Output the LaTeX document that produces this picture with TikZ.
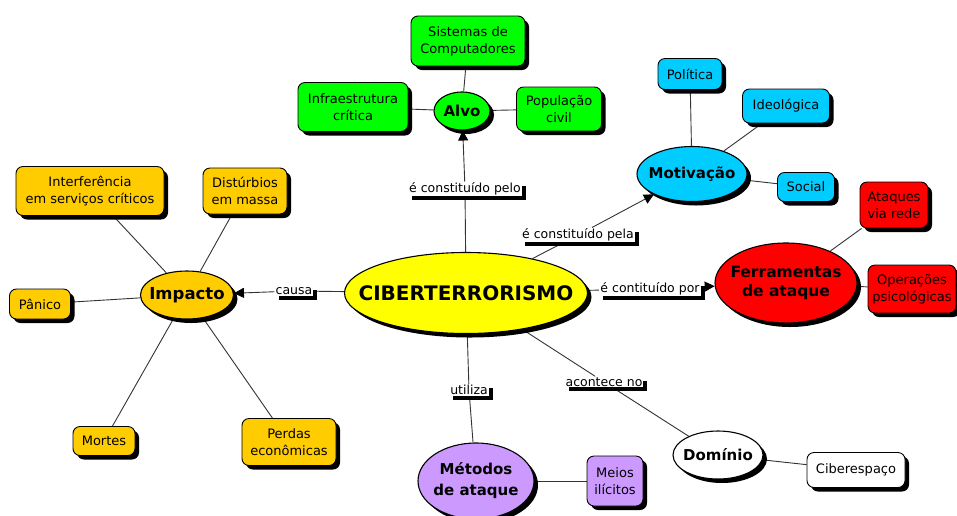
\documentclass[tikz,border=0pt]{standalone}
\usepackage{fontspec}
\setmainfont{DejaVu Sans}
\usetikzlibrary{shapes.geometric,shadows,arrows.meta,backgrounds}
\definecolor{cgreen}{RGB}{0,255,0}
\definecolor{cblue}{RGB}{0,204,255}
\definecolor{cred}{RGB}{255,0,0}
\definecolor{corange}{RGB}{255,204,0}
\definecolor{cyellow}{RGB}{255,255,0}
\definecolor{cpurple}{RGB}{204,153,255}
\begin{document}
\begin{tikzpicture}[x=1pt,y=-1pt,
  sh/.style={drop shadow={shadow xshift=4pt,shadow yshift=-4pt,fill=black,opacity=1}},
  box/.style={draw=black,line width=0.9pt,rounded corners=7pt,sh,align=center,inner sep=0pt,font=\fontsize{13}{17}\selectfont},
  oval/.style={ellipse,draw=black,line width=1.1pt,sh,inner sep=0pt},
  ovl/.style={align=center,inner sep=0pt,font=\bfseries\fontsize{15}{19}\selectfont},
  lab/.style={fill=white,sh,inner sep=1pt,font=\fontsize{12.5}{15}\selectfont},
  conn/.style={line width=0.9pt,draw=black!80},
  arr/.style={conn,-{Triangle[length=10pt,width=10pt,color=black]}}
]
\useasboundingbox (0,0) rectangle (957,515);
% green
\node[box,fill=cgreen,minimum width=114pt,minimum height=50pt] (sis) at (468,41) {Sistemas de\\Computadores};
\node[box,fill=cgreen,minimum width=110pt,minimum height=49pt] (infra) at (353,107) {Infraestrutura\\crítica};
\node[box,fill=cgreen,minimum width=85pt,minimum height=44pt] (pop) at (559,109) {População\\civil};
\node[oval,fill=cgreen,minimum width=56pt,minimum height=38pt,label={[ovl]center:Alvo}] (alvo) at (462,111) {};
% blue
\node[box,fill=cblue,minimum width=64pt,minimum height=31pt] (pol) at (690,74) {Política};
\node[box,fill=cblue,minimum width=87pt,minimum height=34pt] (ideo) at (786,106) {Ideológica};
\node[oval,fill=cblue,minimum width=110pt,minimum height=55pt,label={[ovl]center:Motivação}] (motiv) at (692,174) {};
\node[box,fill=cblue,minimum width=57pt,minimum height=29pt] (soc) at (806,187) {Social};
% red
\node[box,fill=cred,minimum width=68pt,minimum height=46pt] (atq) at (894,205) {Ataques\\via rede};
\node[oval,fill=cred,minimum width=142pt,minimum height=80pt,label={[ovl,font=\bfseries\fontsize{15.5}{19}\selectfont]center:Ferramentas\\de ataque}] (ferr) at (786,283) {};
\node[box,fill=cred,minimum width=88pt,minimum height=48pt] (oper) at (912,289) {Operações\\psicológicas};
% orange
\node[box,fill=corange,minimum width=148pt,minimum height=49pt] (interf) at (90,191) {Interferência\\em serviços críticos};
\node[box,fill=corange,minimum width=84pt,minimum height=46pt] (dist) at (245,191) {Distúrbios\\em massa};
\node[oval,fill=corange,minimum width=93pt,minimum height=48pt,label={[ovl,font=\bfseries\fontsize{16.5}{19}\selectfont]center:Impacto}] (imp) at (187,295) {};
\node[box,fill=corange,minimum width=61pt,minimum height=30pt] (pan) at (40,304) {Pânico};
\node[box,fill=corange,minimum width=62pt,minimum height=29pt] (mort) at (104,441) {Mortes};
\node[box,fill=corange,minimum width=94pt,minimum height=47pt] (perd) at (289,442) {Perdas\\econômicas};
% center
\node[oval,fill=cyellow,minimum width=243pt,minimum height=81pt,label={[ovl,font=\bfseries\fontsize{20}{24}\selectfont]center:CIBERTERRORISMO}] (ciber) at (466,293) {};
% purple
\node[oval,fill=cpurple,minimum width=116pt,minimum height=76pt,label={[ovl,font=\bfseries\fontsize{15}{21}\selectfont]center:Métodos\\de ataque}] (met) at (476,481) {};
\node[box,fill=cpurple,minimum width=56pt,minimum height=50pt] (meios) at (615,481) {Meios\\ilícitos};
% white
\node[oval,fill=white,minimum width=90pt,minimum height=48pt,label={[ovl]center:Domínio}] (dom) at (718,455) {};
\node[box,fill=white,minimum width=98pt,minimum height=35pt] (cib) at (856,470) {Ciberespaço};
% labels
\node[lab] (lpelo) at (465,189) {é constituído pelo};
\node[lab] (lpela) at (578,235) {é constituído pela};
\node[lab] (lpor) at (650,289) {é contituído por};
\node[lab] (lcausa) at (294,291) {causa};
\node[lab] (luti) at (469,390) {utiliza};
\node[lab] (lacon) at (604,382) {acontece no};
\begin{scope}[on background layer]
\draw[conn] (alvo) -- (sis);
\draw[conn] (alvo) -- (infra);
\draw[conn] (alvo) -- (pop);
\draw[conn] (motiv) -- (pol);
\draw[conn] (motiv) -- (ideo);
\draw[conn] (motiv) -- (soc);
\draw[conn] (ferr) -- (atq);
\draw[conn] (ferr) -- (oper);
\draw[conn] (imp) -- (interf);
\draw[conn] (imp) -- (dist);
\draw[conn] (imp) -- (pan);
\draw[conn] (imp) -- (mort);
\draw[conn] (imp) -- (perd);
\draw[conn] (met) -- (meios);
\draw[conn] (dom) -- (cib);
\draw[conn] (ciber) -- (lpelo);
\draw[arr] (lpelo) -- (alvo);
\draw[conn] (ciber) -- (lpela);
\draw[arr] (lpela) -- (motiv);
\draw[conn] (ciber) -- (lpor);
\draw[arr] (lpor) -- (ferr);
\draw[conn] (ciber) -- (lcausa);
\draw[arr] (lcausa) -- (imp);
\draw[conn] (ciber) -- (luti);
\draw[conn] (luti) -- (met);
\draw[conn] (ciber) -- (lacon);
\draw[conn] (lacon) -- (dom);
\end{scope}
\end{tikzpicture}
\end{document}
